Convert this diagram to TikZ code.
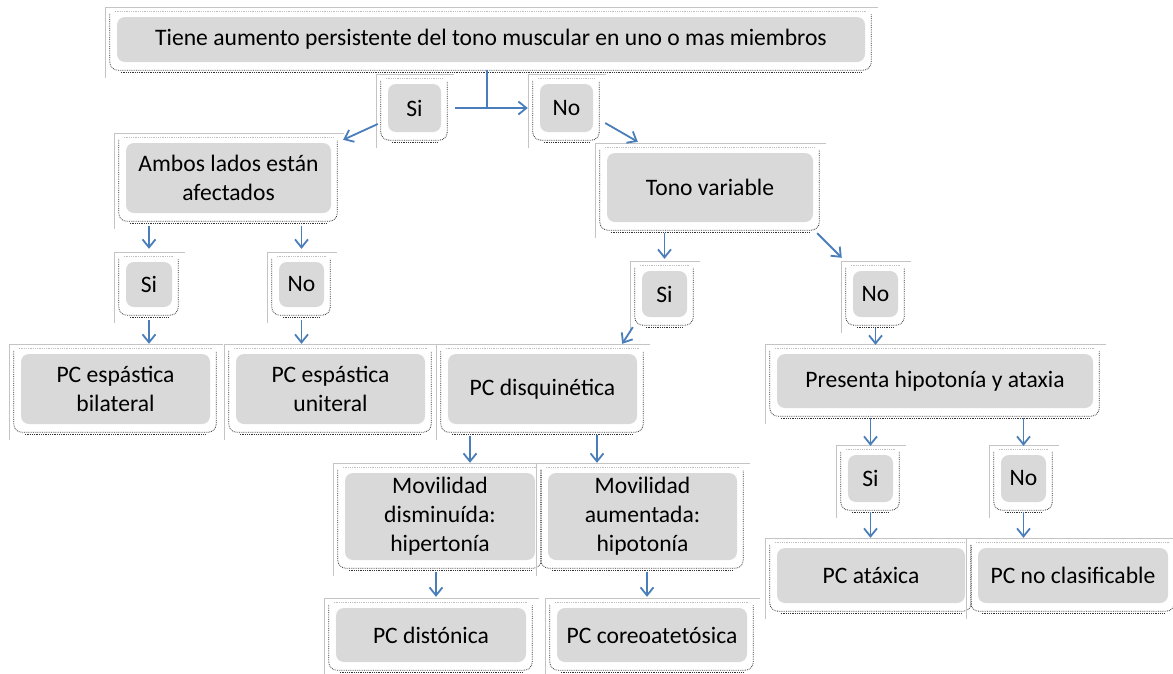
\documentclass[tikz,border=0pt]{standalone}
\usepackage{fontspec}
\setmainfont{Carlito}
\usetikzlibrary{arrows.meta,calc}
\definecolor{boxgray}{HTML}{D9D9D9}
\definecolor{conn}{HTML}{4A7EBB}
\definecolor{framegray}{HTML}{C4C4C4}
\newcommand\boxdeco[1]{%
 \draw[frameline] ([xshift=-11pt,yshift=-16pt]#1.south west) |- ([xshift=13pt,yshift=9pt]#1.north east);
 \draw[dotlight] ([xshift=-2pt,yshift=5pt]#1.north west) -- ([xshift=2pt,yshift=5pt]#1.north east);
 \draw[dotline, rounded corners=8pt] ([xshift=-7pt,yshift=3pt]#1.north west) -- ([xshift=-7pt,yshift=-8pt]#1.south west) -- ([xshift=6pt,yshift=-8pt]#1.south east) -- ([xshift=6pt,yshift=3pt]#1.north east);
 \draw[dotline] ([xshift=4pt,yshift=-10pt]#1.south west) -- ([xshift=-4pt,yshift=-10pt]#1.south east);
}
\begin{document}
\begin{tikzpicture}[x=1pt,y=-1pt,
 box/.style={fill=boxgray, rounded corners=8pt, inner sep=0pt, align=center, font=\fontsize{23.6}{29}\selectfont},
 bx/.style n args={2}{box, minimum width=#1pt, minimum height=#2pt},
 arrow/.style={draw=conn, line width=1.8pt, -{Straight Barb[length=8pt,width=13pt]}},
 link/.style={draw=conn, line width=1.8pt},
 frameline/.style={draw=framegray, line width=0.8pt},
 dotline/.style={draw=black!80, densely dotted, line width=0.8pt},
 dotlight/.style={draw=black!25, densely dotted, line width=0.8pt}]
\useasboundingbox[fill=white] (0,0) rectangle (1173,673);

% nodes
\node[bx={748}{45}] (top) at (491,39.5) {Tiene aumento persistente del tono muscular en uno o mas miembros};
\node[bx={53}{48}] (si0) at (414.5,108) {Si};
\node[bx={53}{48}] (no0) at (566.5,108) {No};
\node[bx={205}{70}] (ambos) at (228.5,178) {Ambos lados están\\afectados};
\node[bx={206}{69}] (tono) at (710,187.5) {Tono variable};
\node[bx={46}{45}] (si1) at (149,284.5) {Si};
\node[bx={45}{45}] (no1) at (301.5,284.5) {No};
\node[bx={45}{46}] (si2) at (664.5,294) {Si};
\node[bx={45}{46}] (no2) at (875.5,294) {No};
\node[bx={189}{70}] (bil) at (115.5,389) {PC espástica\\bilateral};
\node[bx={189}{70}] (uni) at (330.5,389) {PC espástica\\uniteral};
\node[bx={189}{70}] (disq) at (542.5,389) {PC disquinética};
\node[bx={316}{54}] (pres) at (935,381) {Presenta hipotonía y ataxia};
\node[bx={190}{87}] (movd) at (440,516.5) {Movilidad\\disminuída:\\hipertonía};
\node[bx={189}{87}] (mova) at (642.5,516.5) {Movilidad\\aumentada:\\hipotonía};
\node[bx={190}{54}] (pcd) at (431,635) {PC distónica};
\node[bx={190}{54}] (coreo) at (652,635) {PC coreoatetósica};
\node[bx={45}{47}] (si3) at (870.5,478.5) {Si};
\node[bx={45}{47}] (no3) at (1023.5,478.5) {No};
\node[bx={188}{55}] (atax) at (871,575.5) {PC atáxica};
\node[bx={190}{55}] (nocl) at (1073,575.5) {PC no clasificable};

% decorations
\foreach \n in {top,si0,no0,ambos,tono,si1,no1,si2,no2,bil,uni,disq,pres,movd,mova,pcd,coreo,si3,no3,atax,nocl}{\boxdeco{\n}}

% connectors
\coordinate (j) at (487,108);
\draw[link] ([yshift=-8pt]top.south -| j) -- (j);
\draw[arrow] ([xshift=14pt]si0.east) -- ([xshift=-12pt]no0.west);
\draw[arrow] ([xshift=-10pt,yshift=-16pt]si0.west) -- ([xshift=12pt,yshift=3pt]ambos.north east);
\draw[arrow] ([xshift=12pt,yshift=-15pt]no0.east) -- ([xshift=31pt,yshift=11pt]tono.north west);
\draw[arrow] ([yshift=-13pt]ambos.south -| si1) -- ([yshift=13pt]si1.north);
\draw[arrow] ([yshift=-13pt]ambos.south -| no1) -- ([yshift=13pt]no1.north);
\draw[arrow] ([yshift=-13pt]si1.south) -- ([yshift=10pt]bil.north -| si1);
\draw[arrow] ([yshift=-13pt]no1.south) -- ([yshift=10pt]uni.north -| no1);
\draw[arrow] ([yshift=-11pt]tono.south -| si2) -- ([yshift=12pt]si2.north);
\draw[arrow] ([xshift=4pt,yshift=-11pt]tono.south east) -- ([xshift=-11pt,yshift=13pt]no2.north west);
\draw[arrow] ([xshift=-9pt,yshift=-10pt]si2.south west) -- ([xshift=-15pt,yshift=10pt]disq.north east);
\draw[arrow] ([yshift=-11pt]no2.south) -- ([yshift=9pt]pres.north -| no2);
\draw[arrow] ([xshift=-72.5pt,yshift=-12pt]disq.south) -- ([xshift=30pt,yshift=10pt]movd.north);
\draw[arrow] ([xshift=54.5pt,yshift=-11pt]disq.south) -- ([xshift=-45.5pt,yshift=10pt]mova.north);
\draw[arrow] ([xshift=-4pt,yshift=-12pt]movd.south) -- ([xshift=5pt,yshift=11pt]pcd.north);
\draw[arrow] ([xshift=4.5pt,yshift=-12pt]mova.south) -- ([xshift=-5pt,yshift=11pt]coreo.north);
\draw[arrow] ([yshift=-10pt]pres.south -| si3) -- ([yshift=9pt]si3.north);
\draw[arrow] ([yshift=-10pt]pres.south -| no3) -- ([yshift=9pt]no3.north);
\draw[arrow] ([yshift=-10pt]si3.south) -- ([yshift=10pt]atax.north -| si3);
\draw[arrow] ([yshift=-10pt]no3.south) -- ([yshift=10pt]nocl.north -| no3);
\end{tikzpicture}
\end{document}
